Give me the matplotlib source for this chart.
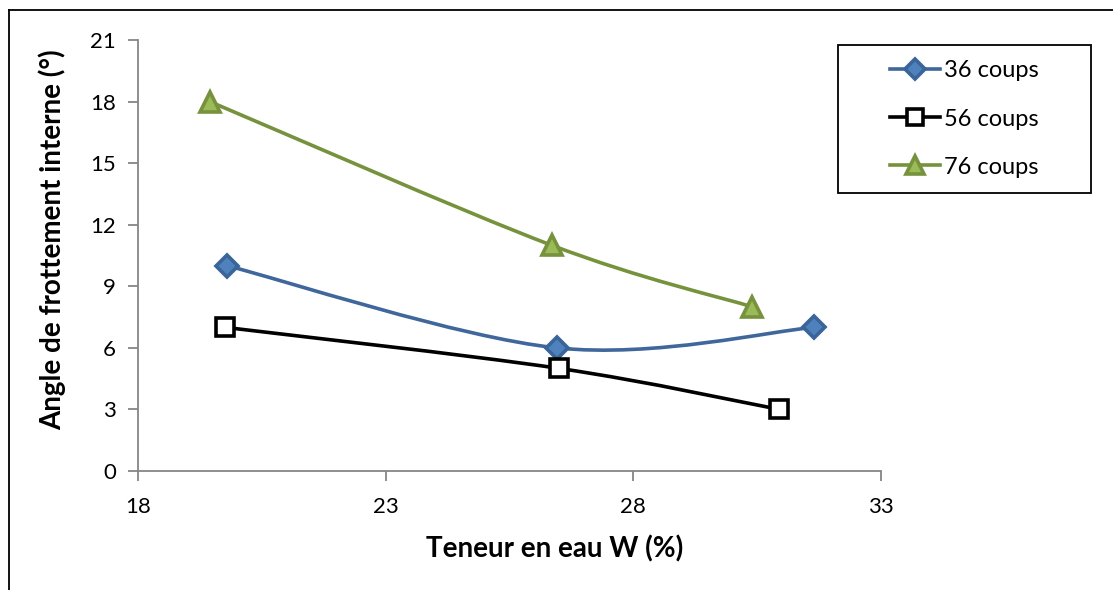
import numpy as np
import matplotlib
matplotlib.use("Agg")
import matplotlib.pyplot as plt
from matplotlib.path import Path
from matplotlib.patches import PathPatch, Rectangle
from matplotlib.lines import Line2D

plt.rcParams["font.family"] = ["Lato", "DejaVu Sans"]

# ── Data ────────────────────────────────────────────────────────────────────
w_36 = [19.8, 26.45, 31.65]
phi_36 = [10, 6, 7]

w_56 = [19.75, 26.5, 30.95]
phi_56 = [7, 5, 3]

w_76 = [19.45, 26.35, 30.4]
phi_76 = [18, 11, 8]

labels = ["36 coups", "56 coups", "76 coups"]
x_ticks = [18, 23, 28, 33]
y_ticks = [0, 3, 6, 9, 12, 15, 18, 21]


def smooth_path(xs, ys):
    # Excel-style smoothed line: cubic Bezier through the points
    pts = np.column_stack([xs, ys]).astype(float)
    n = len(pts)
    verts = [pts[0]]
    codes = [Path.MOVETO]
    for i in range(n - 1):
        p0 = pts[max(i - 1, 0)]
        p1 = pts[i]
        p2 = pts[i + 1]
        p3 = pts[min(i + 2, n - 1)]
        verts += [p1 + (p2 - p0) / 6, p2 - (p3 - p1) / 6, p2]
        codes += [Path.CURVE4] * 3
    return Path(verts, codes)


W, H = 1113, 590
fig = plt.figure(figsize=(W / 100, H / 100), dpi=100)
ax = fig.add_axes([138 / W, 1 - 471 / H, (881 - 138) / W, (471 - 40) / H])

series = [
    (w_36, phi_36, "#3F679C", "D", "#4F81BD", "#3A6598", 11),
    (w_56, phi_56, "black", "s", "white", "black", 12.5),
    (w_76, phi_76, "#76923C", "^", "#9BBB59", "#76923C", 14),
]

handles = []
for (xs, ys, lc, mk, mfc, mec, ms), lab in zip(series, labels):
    ax.add_patch(PathPatch(smooth_path(xs, ys), facecolor="none", edgecolor=lc,
                           lw=2.6, capstyle="round", zorder=2))
    ax.plot(xs, ys, linestyle="none", marker=mk, markersize=ms,
            markerfacecolor=mfc, markeredgecolor=mec, markeredgewidth=2.6, zorder=3)
    handles.append(Line2D([], [], color=lc, lw=2.6, marker=mk, markersize=ms - 1,
                          markerfacecolor=mfc, markeredgecolor=mec, markeredgewidth=2.6))

ax.set_xlim(18, 33)
ax.set_ylim(0, 21)
ax.set_xticks(x_ticks)
ax.set_yticks(y_ticks)
ax.tick_params(axis="both", colors="#868686", labelcolor="black", labelsize=16,
               length=7, width=1.3, direction="out")
ax.tick_params(axis="x", pad=12)
ax.tick_params(axis="y", pad=9)
for s in ["top", "right"]:
    ax.spines[s].set_visible(False)
for s in ["left", "bottom"]:
    ax.spines[s].set_color("#868686")
    ax.spines[s].set_linewidth(1.3)

# axis titles placed where the reference has them
fig.text(555 / W, 1 - 549 / H, "Teneur en eau W (%)", fontsize=20, fontweight="bold",
         ha="center", va="center")
fig.text(52 / W, 1 - 240 / H, "Angle de frottement interne (°)", fontsize=20,
         fontweight="bold", rotation=90, ha="center", va="center")

# legend box drawn as a plain rectangle, entries centred inside it
fig.add_artist(Rectangle((838 / W, 1 - 193 / H), (1091 - 838) / W, (193 - 45) / H,
                         transform=fig.transFigure, facecolor="white",
                         edgecolor="black", lw=1.3))
fig.legend(handles, labels, loc="center", bbox_to_anchor=(964.5 / W, 1 - 119 / H),
           bbox_transform=fig.transFigure, frameon=False, fontsize=17,
           handlelength=2.1, handletextpad=0.2, labelspacing=1.15)

# outer chart frame (cut at right/bottom edge as in the reference)
fig.add_artist(Line2D([9 / W, 9 / W], [0.0, 1 - 10 / H], color="black", lw=1.3,
                      transform=fig.transFigure))
fig.add_artist(Line2D([9 / W, 1.0], [1 - 10 / H, 1 - 10 / H], color="black", lw=1.3,
                      transform=fig.transFigure))

plt.savefig("out.png", dpi=100)
plt.close()
